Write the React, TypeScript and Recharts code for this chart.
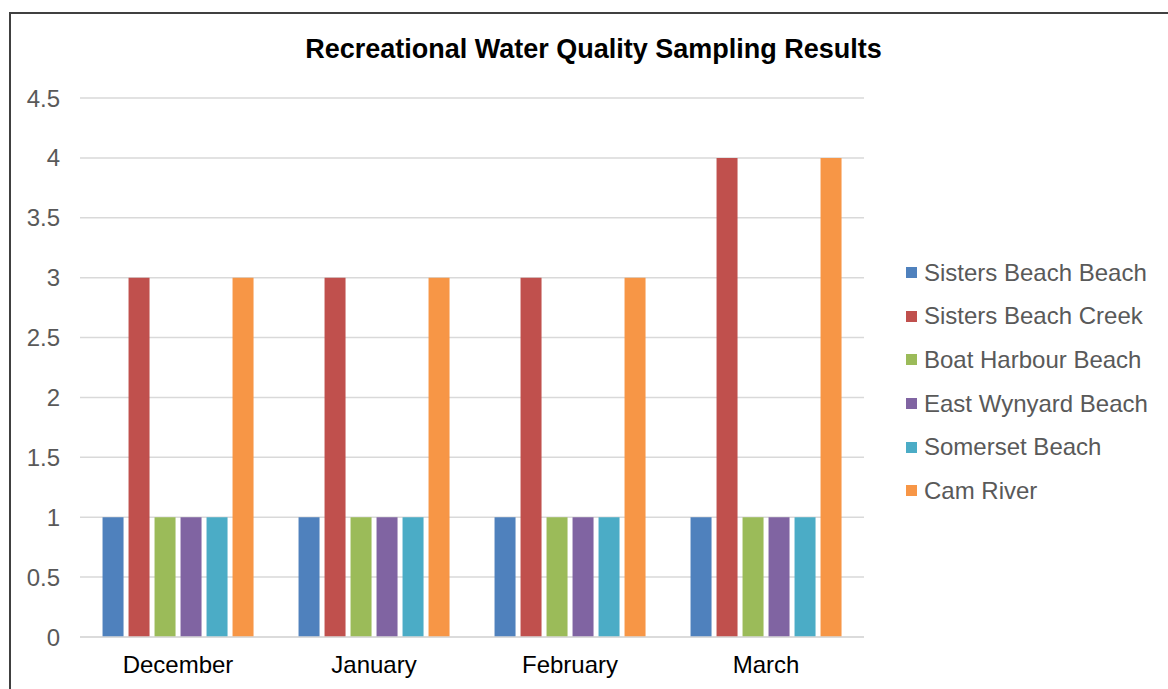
import React from "react";
import {
  BarChart,
  Bar,
  XAxis,
  YAxis,
  CartesianGrid,
} from "recharts";

const months = ["December", "January", "February", "March"];
const sistersBeachBeach = [1, 1, 1, 1];
const sistersBeachCreek = [3, 3, 3, 4];
const boatHarbourBeach = [1, 1, 1, 1];
const eastWynyardBeach = [1, 1, 1, 1];
const somersetBeach = [1, 1, 1, 1];
const camRiver = [3, 3, 3, 4];
const yTicks = [0, 0.5, 1, 1.5, 2, 2.5, 3, 3.5, 4, 4.5];

const series = [
  { key: "Sisters Beach Beach", values: sistersBeachBeach, color: "#4F81BD" },
  { key: "Sisters Beach Creek", values: sistersBeachCreek, color: "#C0504D" },
  { key: "Boat Harbour Beach", values: boatHarbourBeach, color: "#9BBB59" },
  { key: "East Wynyard Beach", values: eastWynyardBeach, color: "#8064A2" },
  { key: "Somerset Beach", values: somersetBeach, color: "#4BACC6" },
  { key: "Cam River", values: camRiver, color: "#F79646" },
];

const data = months.map((month, i) => {
  const row: { [k: string]: string | number } = { month };
  series.forEach((s) => {
    row[s.key] = s.values[i];
  });
  return row;
});

const FONT = '"Liberation Sans", Arial, sans-serif';

// legend kept outside the chart so it does not eat into the plot height
const LegendBox = () => (
  <div
    style={{
      position: "absolute",
      left: 906,
      top: 251,
      fontFamily: FONT,
    }}
  >
    {series.map((s) => (
      <div
        key={s.key}
        style={{ display: "flex", alignItems: "center", height: 43.6 }}
      >
        <div
          style={{
            width: 11,
            height: 11,
            backgroundColor: s.color,
            marginRight: 7,
          }}
        ></div>
        <span style={{ color: "#595959", fontSize: 24, whiteSpace: "nowrap" }}>
          {s.key}
        </span>
      </div>
    ))}
  </div>
);

export default function App() {
  return (
    <div
      style={{
        position: "absolute",
        left: 0,
        top: 0,
        width: 1168,
        height: 689,
        overflow: "hidden",
        background: "#fff",
      }}
    >
      <div
        style={{
          position: "absolute",
          left: 9,
          top: 12,
          width: 1250,
          height: 750,
          border: "2px solid #404040",
        }}
      ></div>
      <div
        style={{
          position: "absolute",
          left: 0,
          width: 1187,
          top: 34,
          textAlign: "center",
          fontFamily: FONT,
          fontWeight: "bold",
          fontSize: 27,
          color: "#000",
        }}
      >
        Recreational Water Quality Sampling Results
      </div>
      <div style={{ position: "absolute", left: 0, top: 0 }}>
        <BarChart
          width={1168}
          height={689}
          data={data}
          margin={{ top: 98, right: 304, bottom: 0, left: 0 }}
          barCategoryGap="11.5%"
          barGap={5}
        >
          <CartesianGrid vertical={false} stroke="#d9d9d9" strokeWidth={1.5} />
          <XAxis
            dataKey="month"
            height={52}
            interval={0}
            tickLine={false}
            tickSize={0}
            tickMargin={19}
            axisLine={{ stroke: "#d9d9d9", strokeWidth: 1.5 }}
            tick={{ fill: "#000", fontSize: 24, fontFamily: FONT }}
          />
          <YAxis
            width={80}
            domain={[0, 4.5]}
            ticks={yTicks}
            interval={0}
            axisLine={false}
            tickLine={false}
            tickSize={0}
            tickMargin={20}
            tick={{ fill: "#595959", fontSize: 24, fontFamily: FONT }}
          />
          {series.map((s) => (
            <Bar
              key={s.key}
              dataKey={s.key}
              fill={s.color}
              isAnimationActive={false}
            />
          ))}
        </BarChart>
      </div>
      <LegendBox />
    </div>
  );
}
